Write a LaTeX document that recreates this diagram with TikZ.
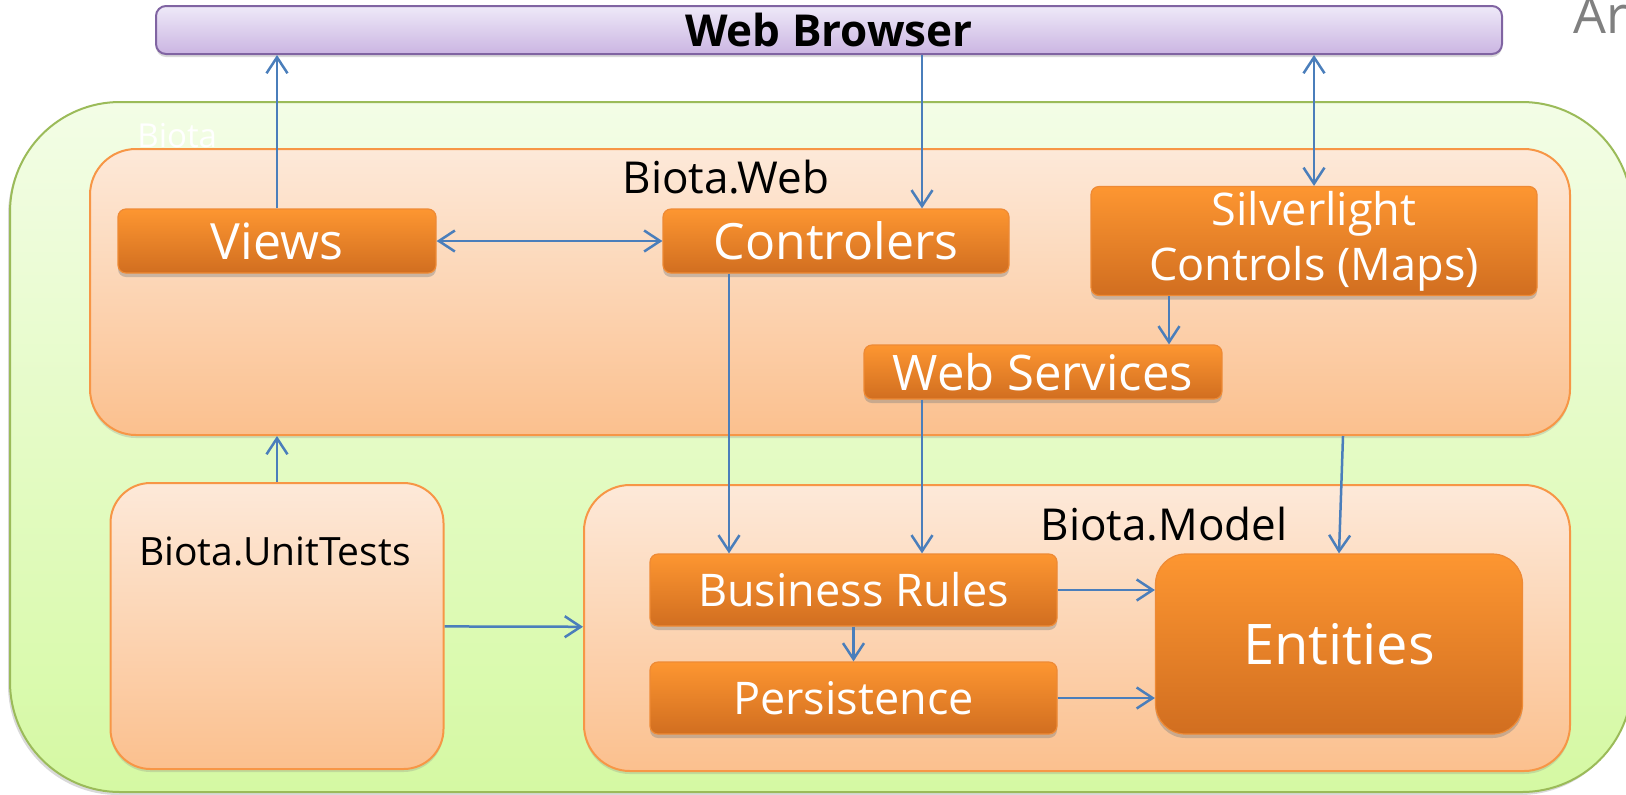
\documentclass[tikz,border=0pt]{standalone}
\usepackage{fontspec}
\setmainfont{Open Sans}
\usepackage{tikz}
\usetikzlibrary{shapes,arrows.meta,shadows}

\definecolor{linkblue}{HTML}{4A7EBB}
\definecolor{wraptop}{HTML}{F3FDE6}
\definecolor{wrapbot}{HTML}{D5F9A3}
\definecolor{wrapline}{HTML}{9BBB59}
\definecolor{packtop}{HTML}{FDE9D9}
\definecolor{packbot}{HTML}{FBC08E}
\definecolor{packline}{HTML}{F79646}
\definecolor{pilltop}{HTML}{FD9631}
\definecolor{pillbot}{HTML}{D16E20}
\definecolor{pillline}{HTML}{EE8A35}
\definecolor{bartop}{HTML}{EEE9F8}
\definecolor{barbot}{HTML}{CBB5E2}
\definecolor{barline}{HTML}{8064A2}

\tikzstyle{wrap} = [draw=wrapline, line width=1pt, rounded corners=55pt,
top color=wraptop, bottom color=wrapbot, inner sep=0pt,
drop shadow={shadow xshift=-1pt, shadow yshift=-1.5pt, opacity=0.3}]
\tikzstyle{pack} = [draw=packline, line width=1pt, rounded corners=23pt,
top color=packtop, bottom color=packbot, inner sep=0pt,
drop shadow={shadow xshift=0pt, shadow yshift=-1.5pt, opacity=0.25}]
\tikzstyle{pill} = [draw=pillline, line width=0.6pt, rounded corners=4pt,
top color=pilltop, bottom color=pillbot, text=white, inner sep=0pt,
drop shadow={shadow xshift=0pt, shadow yshift=-2pt, opacity=0.4},
font=\fontsize{22.5}{27.5}\selectfont]
\tikzstyle{bar} = [draw=barline, line width=1pt, rounded corners=5pt,
top color=bartop, bottom color=barbot, inner sep=0pt,
drop shadow={shadow xshift=0pt, shadow yshift=-1.5pt, opacity=0.3},
font=\fontsize{22}{26}\selectfont\bfseries]
\tikzstyle{caption} = [inner sep=0pt, font=\fontsize{22}{26}\selectfont]
\tikzstyle{link} = [draw=linkblue, line width=1.25pt]

\begin{document}
\begin{tikzpicture}[x=0.5pt, y=-0.5pt, >={Straight Barb[length=8pt,width=10.5pt]}]
\useasboundingbox (0,0) rectangle (1626,794);

	\node [wrap, minimum width=811pt, minimum height=345pt] (biota) at (821,447) {};
	\node [caption, text=white, font=\fontsize{16.5}{20}\selectfont, anchor=base west] (biotalabel) at (137,147) {Biota};

	\node [bar, minimum width=673pt, minimum height=24pt] (browser) at (829,30) {Web Browser};
	\node [caption, text=black!50, font=\fontsize{26}{30}\selectfont, anchor=base west] (title) at (1573,33) {Ar};

	\node [pack, minimum width=740pt, minimum height=143pt] (web) at (830,292) {};
	\node [caption, anchor=base] (weblabel) at (726,193) {Biota.Web};

	\node [pill, font=\fontsize{25}{30}\selectfont, minimum width=159pt, minimum height=32pt] (views) at (277,241) {Views};
	\node [pill, font=\fontsize{25}{30}\selectfont, minimum width=173pt, minimum height=32pt, right of=views, node distance=279.5pt] (controlers) {Controlers};
	\node [pill, align=center, minimum width=223pt, minimum height=54.5pt, right of=controlers, node distance=239pt] (silverlight) {Silverlight\\Controls (Maps)};
	\node [pill, font=\fontsize{24.5}{30}\selectfont, minimum width=179pt, minimum height=27pt] (webservices) at (1043,372) {Web Services};

	\node [pack, rounded corners=20pt, minimum width=166.5pt, minimum height=143pt, below of=views, node distance=192.5pt] (unittests) {};
	\node [caption, font=\fontsize{19.5}{24}\selectfont, anchor=base] (utlabel) at (275,565) {Biota.UnitTests};

	\node [pack, minimum width=493pt, minimum height=143pt] (model) at (1077,628) {};
	\node [caption, anchor=base east] (modellabel) at (1288,540) {Biota.Model};

	\node [pill, minimum width=203.5pt, minimum height=36pt] (rules) at (853.5,590) {Business Rules};
	\node [pill, minimum width=203.5pt, minimum height=36pt, below of=rules, node distance=54pt] (persistence) {Persistence};
	\node [pill, rounded corners=15pt, font=\fontsize{28}{32}\selectfont, minimum width=183.5pt, minimum height=90pt] (entities) at (1339,644) {Entities};

	\draw [link, ->] (views.north) -- (views.north |- browser.south);
	\draw [link, ->] ([xshift=43pt]controlers.north |- browser.south) -- ([xshift=43pt]controlers.north);
	\draw [link, <->] (browser.south -| silverlight.north) -- (silverlight.north);
	\draw [link, <->] (views) -- (controlers);
	\draw [link, ->] ([xshift=-53.5pt]controlers.south) -- ([xshift=-53.5pt]controlers.south |- rules.north);
	\draw [link, ->] ([xshift=-72.5pt]silverlight.south) -- ([xshift=-72.5pt]silverlight.south |- webservices.north);
	\draw [link, ->] ([xshift=-60.5pt]webservices.south) -- ([xshift=-60.5pt]webservices.south |- rules.north);
	\draw [link, ->] ([xshift=2pt]entities.north |- web.south) -- (entities.north);
	\draw [link, ->] (unittests.north) -- (unittests.north |- web.south);
	\draw [link, ->] (unittests) -- (model);
	\draw [link, ->] (rules) -- (persistence);
	\draw [link, ->] (rules.east) -- (rules.east -| entities.west);
	\draw [link, ->] (persistence.east) -- (persistence.east -| entities.west);

\end{tikzpicture}
\end{document}
